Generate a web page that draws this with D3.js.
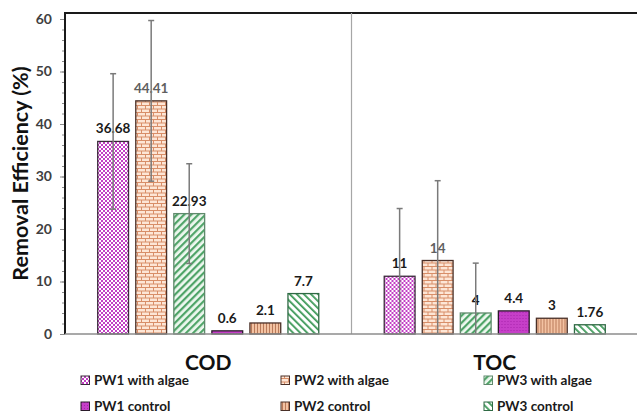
<!DOCTYPE html>
<html>
<head>
<meta charset="utf-8">
<script src="https://cdn.jsdelivr.net/npm/d3@7"></script>
<style>
  body { margin: 0; background: #fff; }
  svg { display: block; font-family: Lato, "Open Sans", sans-serif; }
</style>
</head>
<body>
<div id="chart"></div>
<script>
// Data
const categories = ["COD", "TOC"];
const seriesNames = ["PW1 with algae", "PW2 with algae", "PW3 with algae", "PW1 control", "PW2 control", "PW3 control"];
const codValues = [36.68, 44.41, 22.93, 0.6, 2.1, 7.7];
const tocValues = [11, 14, 4, 4.4, 3, 1.76];
const codErrors = [12.9, 15.3, 9.5, null, null, null];
const tocErrors = [12.9, 15.2, 9.5, null, null, null];
const valueLabels = [["36.68", "44.41", "22.93", "0.6", "2.1", "7.7"], ["11", "14", "4", "4.4", "3", "1.76"]];
const yTicks = [0, 10, 20, 30, 40, 50, 60];

const width = 637, height = 416;
const svg = d3.select("#chart").append("svg")
    .attr("width", width)
    .attr("height", height);

// Patterns that mimic the Excel fills
const defs = svg.append("defs");

function pattern(id, w, h, draw, transform) {
    const p = defs.append("pattern")
        .attr("id", id)
        .attr("patternUnits", "userSpaceOnUse")
        .attr("width", w)
        .attr("height", h);
    if (transform) p.attr("patternTransform", transform);
    draw(p);
}

// checkerboard
pattern("p0", 4, 4, p => {
    p.append("rect").attr("width", 4).attr("height", 4).attr("fill", "#fff");
    p.append("rect").attr("width", 2).attr("height", 2).attr("fill", "#c23ec4");
    p.append("rect").attr("x", 2).attr("y", 2).attr("width", 2).attr("height", 2).attr("fill", "#c23ec4");
});
// brick
pattern("p1", 8, 7, p => {
    p.append("rect").attr("width", 8).attr("height", 7).attr("fill", "#fde6d6");
    p.append("path")
        .attr("d", "M0,0.5H8M0,4H8M0.5,0.5V4M4.5,4V7")
        .attr("stroke", "#d88e68").attr("stroke-width", 1).attr("fill", "none");
});
// wide upward diagonal
pattern("p2", 5, 5, p => {
    p.append("rect").attr("width", 5).attr("height", 5).attr("fill", "#eef8f0");
    p.append("rect").attr("width", 2.2).attr("height", 5).attr("fill", "#4fa468");
}, "rotate(45)");
// solid magenta with fine dots
pattern("p3", 3, 3, p => {
    p.append("rect").attr("width", 3).attr("height", 3).attr("fill", "#c63fc8");
    p.append("rect").attr("width", 1).attr("height", 1).attr("fill", "#a822ac");
});
// vertical stripes
pattern("p4", 3, 3, p => {
    p.append("rect").attr("width", 3).attr("height", 3).attr("fill", "#f3c2a2");
    p.append("rect").attr("width", 1).attr("height", 3).attr("fill", "#b97a5a");
});
// downward diagonal
pattern("p5", 5, 5, p => {
    p.append("rect").attr("width", 5).attr("height", 5).attr("fill", "#fff");
    p.append("rect").attr("width", 1.8).attr("height", 5).attr("fill", "#3f9a5a");
}, "rotate(-45)");

const strokes = ["#3a2a3a", "#4a3028", "#5f8a6c", "#2a1a2a", "#4a3028", "#2f6a44"];
const labelColors = ["#1a1a1a", "#606060", "#1a1a1a", "#1a1a1a", "#1a1a1a", "#1a1a1a"];

// Scales
const plotLeft = 65, plotRight = 638, plotTop = 13, plotBottom = 334;
const y = d3.scaleLinear().domain([0, 60]).range([plotBottom, 19]);
const x0 = d3.scaleBand().domain(categories).range([plotLeft, plotRight]);
const x1 = d3.scaleBand().domain(seriesNames).range([0, x0.bandwidth()])
    .paddingInner(0.19).paddingOuter(0.86);

// Frame: top line and category divider
svg.append("line")
    .attr("x1", plotLeft).attr("x2", width)
    .attr("y1", plotTop).attr("y2", plotTop)
    .attr("stroke", "#1a1a1a").attr("stroke-width", 2);

svg.append("line")
    .attr("x1", x0("TOC")).attr("x2", x0("TOC"))
    .attr("y1", plotTop).attr("y2", plotBottom)
    .attr("stroke", "#a6a6a6").attr("stroke-width", 1.2);

// Bars
const valueSets = [codValues, tocValues];
const errorSets = [codErrors, tocErrors];

categories.forEach((cat, ci) => {
    const g = svg.append("g").attr("transform", `translate(${x0(cat)},0)`);
    seriesNames.forEach((s, si) => {
        const v = valueSets[ci][si];
        g.append("rect")
            .attr("x", x1(s))
            .attr("y", y(v))
            .attr("width", x1.bandwidth())
            .attr("height", y(0) - y(v))
            .attr("fill", `url(#p${si})`)
            .attr("stroke", strokes[si])
            .attr("stroke-width", 1.3);
    });
});

// Error bars and value labels on top
categories.forEach((cat, ci) => {
    const g = svg.append("g").attr("transform", `translate(${x0(cat)},0)`);
    seriesNames.forEach((s, si) => {
        const v = valueSets[ci][si];
        const e = errorSets[ci][si];
        const cx = x1(s) + x1.bandwidth() / 2;
        g.append("text")
            .attr("x", cx)
            .attr("y", y(v) - 8)
            .attr("text-anchor", "middle")
            .attr("font-size", "13.5px")
            .attr("font-weight", "bold")
            .attr("fill", labelColors[si])
            .text(valueLabels[ci][si]);
        if (e != null) {
            const lo = Math.max(0, v - e), hi = v + e;
            g.append("line")
                .attr("x1", cx).attr("x2", cx)
                .attr("y1", y(lo)).attr("y2", y(hi))
                .attr("stroke", "#7a7a7a").attr("stroke-width", 1.5);
            g.append("line")
                .attr("x1", cx - 3).attr("x2", cx + 3)
                .attr("y1", y(hi)).attr("y2", y(hi))
                .attr("stroke", "#7a7a7a").attr("stroke-width", 1.5);
            if (v - e > 0) {
                g.append("line")
                    .attr("x1", cx - 3).attr("x2", cx + 3)
                    .attr("y1", y(lo)).attr("y2", y(lo))
                    .attr("stroke", "#7a7a7a").attr("stroke-width", 1.5);
            }
        }
    });
});

// Minor ticks
svg.append("g")
    .attr("transform", `translate(${plotLeft},0)`)
    .call(d3.axisLeft(y).tickValues(d3.range(0, 61, 2)).tickSize(3).tickFormat(""))
    .call(g => g.select(".domain").remove())
    .call(g => g.selectAll("line").attr("stroke", "#8c8c8c"));

// Y axis
svg.append("g")
    .attr("transform", `translate(${plotLeft},0)`)
    .call(d3.axisLeft(y).tickValues(yTicks).tickSize(5).tickPadding(8))
    .call(g => g.select(".domain").remove())
    .call(g => g.selectAll("line").attr("stroke", "#8c8c8c"))
    .call(g => g.selectAll("text")
        .attr("font-size", "14px")
        .attr("font-weight", "bold")
        .attr("font-family", "Lato, sans-serif")
        .attr("fill", "#404040"));

svg.append("line")
    .attr("x1", plotLeft).attr("x2", plotLeft)
    .attr("y1", plotTop - 1).attr("y2", plotBottom)
    .attr("stroke", "#1a1a1a").attr("stroke-width", 2);

// X axis baseline
svg.append("line")
    .attr("x1", plotLeft).attr("x2", width)
    .attr("y1", plotBottom).attr("y2", plotBottom)
    .attr("stroke", "#8c8c8c").attr("stroke-width", 1.5);

// Category labels
svg.selectAll(".cat")
    .data(categories)
    .enter().append("text")
    .attr("class", "cat")
    .attr("x", d => x0(d) + x0.bandwidth() / 2)
    .attr("y", 370)
    .attr("text-anchor", "middle")
    .attr("font-size", "21px")
    .attr("font-weight", "bold")
    .attr("fill", "#111")
    .text(d => d);

// Y axis title
svg.append("text")
    .attr("transform", `translate(28,${(plotTop + plotBottom) / 2}) rotate(-90)`)
    .attr("text-anchor", "middle")
    .attr("font-size", "21.5px")
    .attr("font-weight", "bold")
    .attr("fill", "#111")
    .text("Removal Efficiency (%)");

// Legend
const legendX = [85, 285, 488];
const legendY = [380, 406];
seriesNames.forEach((s, si) => {
    const lx = legendX[si % 3], ly = legendY[Math.floor(si / 3)];
    svg.append("rect")
        .attr("x", lx - 4).attr("y", ly - 4)
        .attr("width", 8.5).attr("height", 8.5)
        .attr("fill", `url(#p${si})`)
        .attr("stroke", strokes[si])
        .attr("stroke-width", 1);
    svg.append("text")
        .attr("x", lx + 9)
        .attr("y", ly)
        .attr("dy", "0.35em")
        .attr("font-size", "13.5px")
        .attr("font-weight", "bold")
        .attr("fill", "#1a1a1a")
        .text(s);
});
</script>
</body>
</html>
